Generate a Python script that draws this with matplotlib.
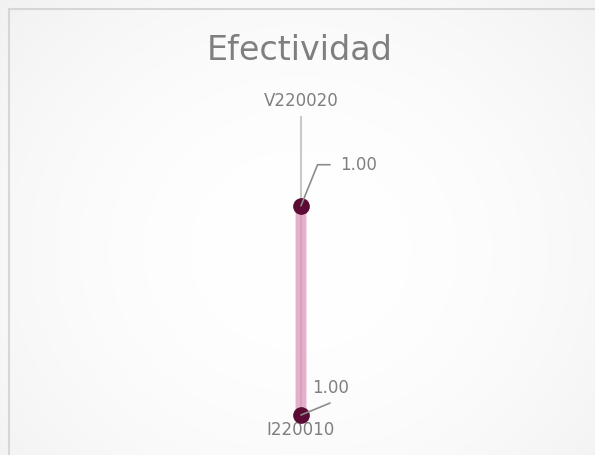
import numpy as np
import matplotlib
matplotlib.use("Agg")
import matplotlib.pyplot as plt
from matplotlib.lines import Line2D

# ---- data ----
title = "Efectividad"
categories = ["V220020", "I220010"]
values = [0.997, 1.000]          # both display as 1.00
r_min, r_max = 0.995, 1.000       # radial axis range
value_labels = [f"{v:.2f}" for v in values]

W, H = 595, 455
fig = plt.figure(figsize=(W / 100, H / 100), dpi=100)

# background radial gradient
bg = fig.add_axes([0, 0, 1, 1], zorder=0)
yy, xx = np.mgrid[0:H, 0:W]
d = np.sqrt(((xx - 300) / 330.0) ** 2 + ((yy - 250) / 300.0) ** 2)
g = 1.0 - 0.035 * np.clip(d, 0, 1.3) ** 2
bg.imshow(np.dstack([g, g, g]), extent=[0, W, H, 0], aspect="auto")
bg.set_xlim(0, W)
bg.set_ylim(H, 0)
bg.axis("off")
# chart border (top and left visible)
bg.add_line(Line2D([8.5, W], [8.5, 8.5], color="#d6d6d6", lw=1.5))
bg.add_line(Line2D([8.5, 8.5], [8.5, H], color="#d6d6d6", lw=1.5))

fig.text(300 / W, 1 - 50 / H, title, ha="center", va="center",
         fontsize=24, color="#7f7f7f", family="DejaVu Sans")

# radar axes: center (301, 265.5), radius 149.5 px
cx, cy, R = 301, 265.5, 149.5
ax = fig.add_axes([(cx - R) / W, (H - cy - R) / H, 2 * R / W, 2 * R / H],
                  projection="polar", zorder=2)
ax.patch.set_alpha(0)
ax.set_theta_zero_location("N")
ax.set_theta_direction(-1)
angles = np.linspace(0, 2 * np.pi, len(categories), endpoint=False)
ax.set_ylim(r_min, r_max)
ax.set_rorigin(r_min)
ax.set_xticks(angles)
ax.set_xticklabels(categories, fontsize=12, color="#7f7f7f")
ax.tick_params(axis="x", pad=0)
ax.set_yticks([])
ax.spines["polar"].set_visible(False)
ax.xaxis.grid(True, color="#c8c8c8", lw=1.5)
ax.yaxis.grid(False)
ax.set_axisbelow(True)

th = np.append(angles, angles[0])
rv = np.append(values, values[0])
ax.plot(th, rv, color="#dc96b9", alpha=0.75, lw=7.5, solid_capstyle="butt",
        zorder=3, clip_on=False)
ax.plot(angles, values, "o", color="#5b0b34", ms=11, zorder=4, clip_on=False)

# data labels with leader lines (offsets in points)
text_off = [(28, 29.5), (21.6, 19.4)]
text_ha = ["left", "center"]
lead_off = [(20.9, 29.5), (20.9, 8.6)]
conns = ["angle,angleA=180,angleB=68,rad=0", "arc3,rad=0"]
for a, v, lab, to, ha, lo, cs in zip(angles, values, value_labels, text_off,
                                     text_ha, lead_off, conns):
    ax.annotate("", xy=(a, v), xytext=lo, textcoords="offset points",
                annotation_clip=False, zorder=5,
                arrowprops=dict(arrowstyle="-", color="#8c8c8c", lw=1.2,
                                shrinkA=0, shrinkB=0, connectionstyle=cs))
    ax.annotate(lab, xy=(a, v), xytext=to, textcoords="offset points",
                ha=ha, va="center", fontsize=12, color="#7f7f7f", zorder=5,
                annotation_clip=False)

fig.savefig("out.png", dpi=100)
